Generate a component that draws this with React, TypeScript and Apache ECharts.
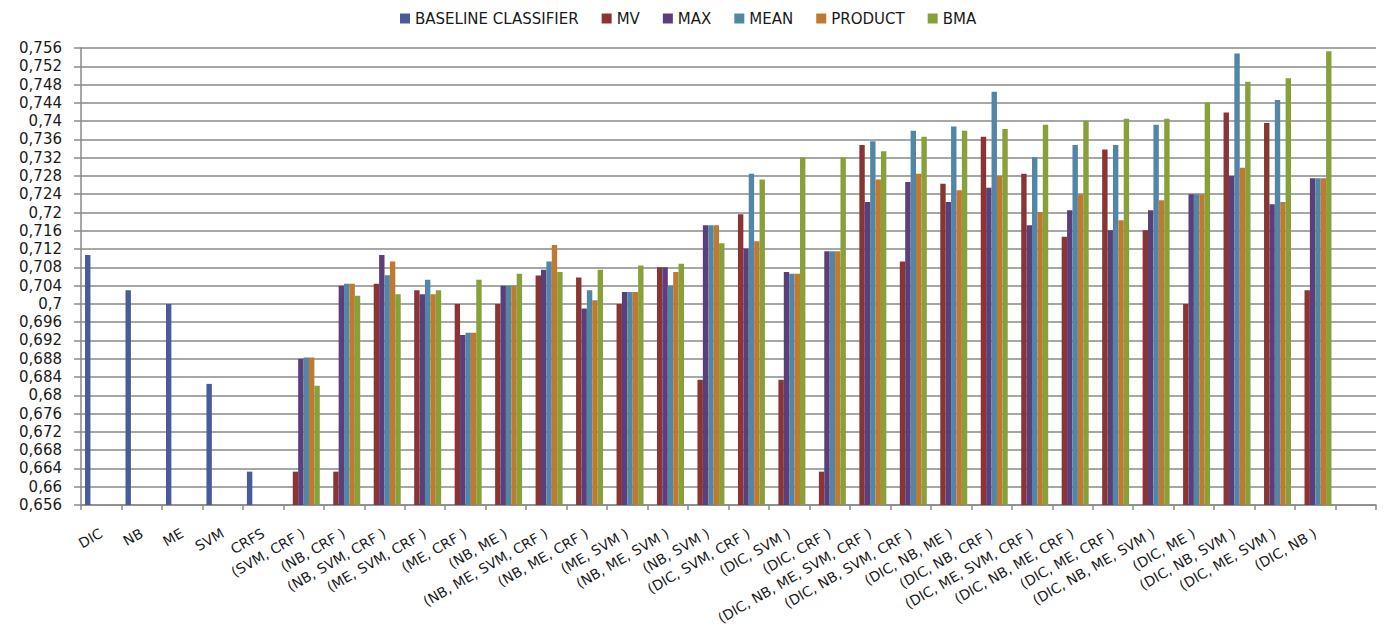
import React, { useEffect, useRef } from "react";
import * as echarts from "echarts";

// Classifier combinations on the x axis
const categories = [
  "DIC", "NB", "ME", "SVM", "CRFS",
  "(SVM, CRF )", "(NB, CRF )", "(NB, SVM, CRF )", "(ME, SVM, CRF )", "(ME, CRF )",
  "(NB, ME )", "(NB, ME, SVM, CRF )", "(NB, ME, CRF )", "(ME, SVM )", "(NB, ME, SVM )",
  "(NB, SVM )", "(DIC, SVM, CRF )", "(DIC, SVM )", "(DIC, CRF )", "(DIC, NB, ME, SVM, CRF )",
  "(DIC, NB, SVM, CRF )", "(DIC, NB, ME )", "(DIC, NB, CRF )", "(DIC, ME, SVM, CRF )", "(DIC, NB, ME, CRF )",
  "(DIC, ME, CRF )", "(DIC, NB, ME, SVM )", "(DIC, ME )", "(DIC, NB, SVM )", "(DIC, ME, SVM )",
  "(DIC, NB )",
];

const N5 = [null, null, null, null, null];

const baseline = [0.7107, 0.703, 0.7, 0.6825, 0.6633];
const mv = [...N5,
  0.6633, 0.6633, 0.7044, 0.703, 0.7, 0.7, 0.7062, 0.7058, 0.7, 0.708,
  0.6834, 0.7196, 0.6834, 0.6633, 0.7348, 0.7093, 0.7263, 0.7366, 0.7285, 0.7147,
  0.7338, 0.7161, 0.7, 0.7419, 0.7396, 0.703];
const max = [...N5,
  0.688, 0.704, 0.7107, 0.7021, 0.6932, 0.704, 0.7075, 0.699, 0.7026, 0.708,
  0.7172, 0.7121, 0.707, 0.7115, 0.7223, 0.7267, 0.7223, 0.7254, 0.7172, 0.7205,
  0.7161, 0.7205, 0.724, 0.728, 0.7218, 0.7275];
const mean = [...N5,
  0.6883, 0.7044, 0.7063, 0.7053, 0.6937, 0.704, 0.7093, 0.703, 0.7026, 0.704,
  0.7172, 0.7285, 0.7066, 0.7115, 0.7356, 0.7379, 0.7388, 0.7464, 0.7321, 0.7348,
  0.7348, 0.7392, 0.724, 0.7548, 0.7446, 0.7275];
const product = [...N5,
  0.6883, 0.7044, 0.7093, 0.7021, 0.6937, 0.704, 0.7129, 0.7008, 0.7026, 0.707,
  0.7172, 0.7137, 0.7066, 0.7115, 0.7272, 0.7285, 0.7249, 0.728, 0.7201, 0.724,
  0.7183, 0.7227, 0.724, 0.7298, 0.7223, 0.7275];
const bma = [...N5,
  0.6821, 0.7018, 0.7021, 0.703, 0.7053, 0.7066, 0.707, 0.7075, 0.7084, 0.7088,
  0.7133, 0.7272, 0.7321, 0.7321, 0.7334, 0.7366, 0.7379, 0.7383, 0.7392, 0.7401,
  0.7405, 0.7405, 0.7441, 0.7486, 0.7494, 0.7553];

const seriesNames = ["BASELINE CLASSIFIER", "MV", "MAX", "MEAN", "PRODUCT", "BMA"];
const seriesValues = [baseline, mv, max, mean, product, bma];
const seriesColors = ["#4a5b9c", "#8a3434", "#5c3e7b", "#5286a6", "#c07a30", "#87a03a"];

const FONT = "'DejaVu Sans', 'Open Sans', sans-serif";

export default function App() {
  const ref = useRef<HTMLDivElement>(null);

  useEffect(() => {
    if (!ref.current) return;
    const chart = echarts.init(ref.current, undefined, { renderer: "svg" });
    chart.setOption({
      animation: false,
      backgroundColor: "#ffffff",
      textStyle: { fontFamily: FONT },
      legend: {
        data: seriesNames,
        left: 395,
        top: 6,
        itemWidth: 10,
        itemHeight: 10,
        itemGap: 23,
        itemStyle: { borderWidth: 0 },
        textStyle: { fontFamily: FONT, fontSize: 15, color: "#1a1a1a" },
        icon: "rect",
      },
      grid: { left: 81, right: 8, top: 48, bottom: 132, containLabel: false },
      xAxis: {
        type: "category",
        data: [...categories, ""],
        boundaryGap: true,
        axisLine: { lineStyle: { color: "#8a8a8a", width: 1.5 } },
        axisTick: { show: true, length: 5, lineStyle: { color: "#8a8a8a", width: 1.5 } },
        axisLabel: {
          interval: 0,
          rotate: 30,
          margin: 27,
          fontFamily: FONT,
          fontSize: 14,
          color: "#1a1a1a",
        },
        splitLine: { show: false },
      },
      yAxis: {
        type: "value",
        min: 0.656,
        max: 0.756,
        interval: 0.004,
        axisLine: { show: true, lineStyle: { color: "#8a8a8a", width: 1.5 } },
        axisTick: { show: true, length: 7, lineStyle: { color: "#8a8a8a", width: 1.5 } },
        axisLabel: {
          margin: 19,
          fontFamily: FONT,
          fontSize: 15,
          color: "#1a1a1a",
          formatter: (v: number) => String(+v.toFixed(3)).replace(".", ","),
        },
        splitLine: { show: true, lineStyle: { color: "#8a8a8a", width: 1.5 } },
      },
      series: seriesNames.map((name, i) => ({
        name,
        type: "bar",
        data: seriesValues[i],
        barGap: "0%",
        barCategoryGap: "20%",
        itemStyle: { color: seriesColors[i] },
      })),
    });
    return () => chart.dispose();
  }, []);

  return (
    <div
      ref={ref}
      style={{ position: "fixed", left: 0, top: 0, width: 1384, height: 637 }}
    />
  );
}
